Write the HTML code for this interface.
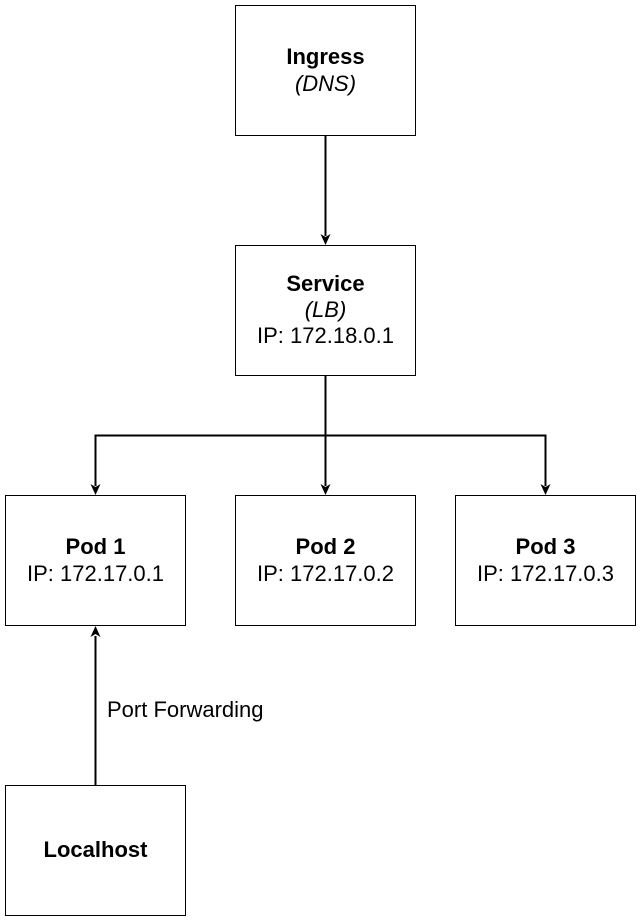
<!DOCTYPE html>
<html><head><meta charset="utf-8"><style>
html,body{margin:0;padding:0;background:#fff;}
body{width:642px;height:922px;position:relative;font-family:"Liberation Sans",sans-serif;}
svg{position:absolute;left:0;top:0;}
</style></head><body>
<svg width="642" height="922" viewBox="0 0 642 922" font-family="Liberation Sans, sans-serif" font-size="22">
<g fill="#fff" stroke="#000" stroke-width="1">
<rect x="235.5" y="5.5" width="180" height="130"/>
<rect x="235.5" y="245.5" width="180" height="130"/>
<rect x="5.5" y="495.5" width="180" height="130"/>
<rect x="235.5" y="495.5" width="180" height="130"/>
<rect x="455.5" y="495.5" width="180" height="130"/>
<rect x="5.5" y="785.5" width="180" height="130"/>
</g>
<g stroke="#000" stroke-width="2" fill="none">
<line x1="325.5" y1="136" x2="325.5" y2="236"/>
<line x1="325.5" y1="376" x2="325.5" y2="486"/>
<polyline points="325.5,376 325.5,435.5 95.5,435.5 95.5,486"/>
<polyline points="325.5,376 325.5,435.5 545.5,435.5 545.5,486"/>
<line x1="95.5" y1="785" x2="95.5" y2="636"/>
</g>
<g fill="#000">
<path d="M325.5,245 L320.5,234 L325.5,237 L330.5,234Z"/>
<path d="M325.5,495 L320.5,484 L325.5,487 L330.5,484Z"/>
<path d="M95.5,495 L90.5,484 L95.5,487 L100.5,484Z"/>
<path d="M545.5,495 L540.5,484 L545.5,487 L550.5,484Z"/>
<path d="M95.5,626 L90.5,637 L95.5,634 L100.5,637Z"/>
</g>
<g text-anchor="middle" fill="#000">
<text x="325.5" y="64" font-weight="bold">Ingress</text>
<text x="325.5" y="91" font-style="italic">(DNS)</text>
<text x="325.5" y="291" font-weight="bold">Service</text>
<text x="325.5" y="317" font-style="italic">(LB)</text>
<text x="325.5" y="343">IP: 172.18.0.1</text>
<text x="95.5" y="554" font-weight="bold">Pod 1</text>
<text x="95.5" y="581">IP: 172.17.0.1</text>
<text x="325.5" y="554" font-weight="bold">Pod 2</text>
<text x="325.5" y="581">IP: 172.17.0.2</text>
<text x="545.5" y="554" font-weight="bold">Pod 3</text>
<text x="545.5" y="581">IP: 172.17.0.3</text>
<text x="95.5" y="857" font-weight="bold">Localhost</text>
</g>
<text x="107" y="717" fill="#000">Port Forwarding</text>
</svg>
</body></html>
